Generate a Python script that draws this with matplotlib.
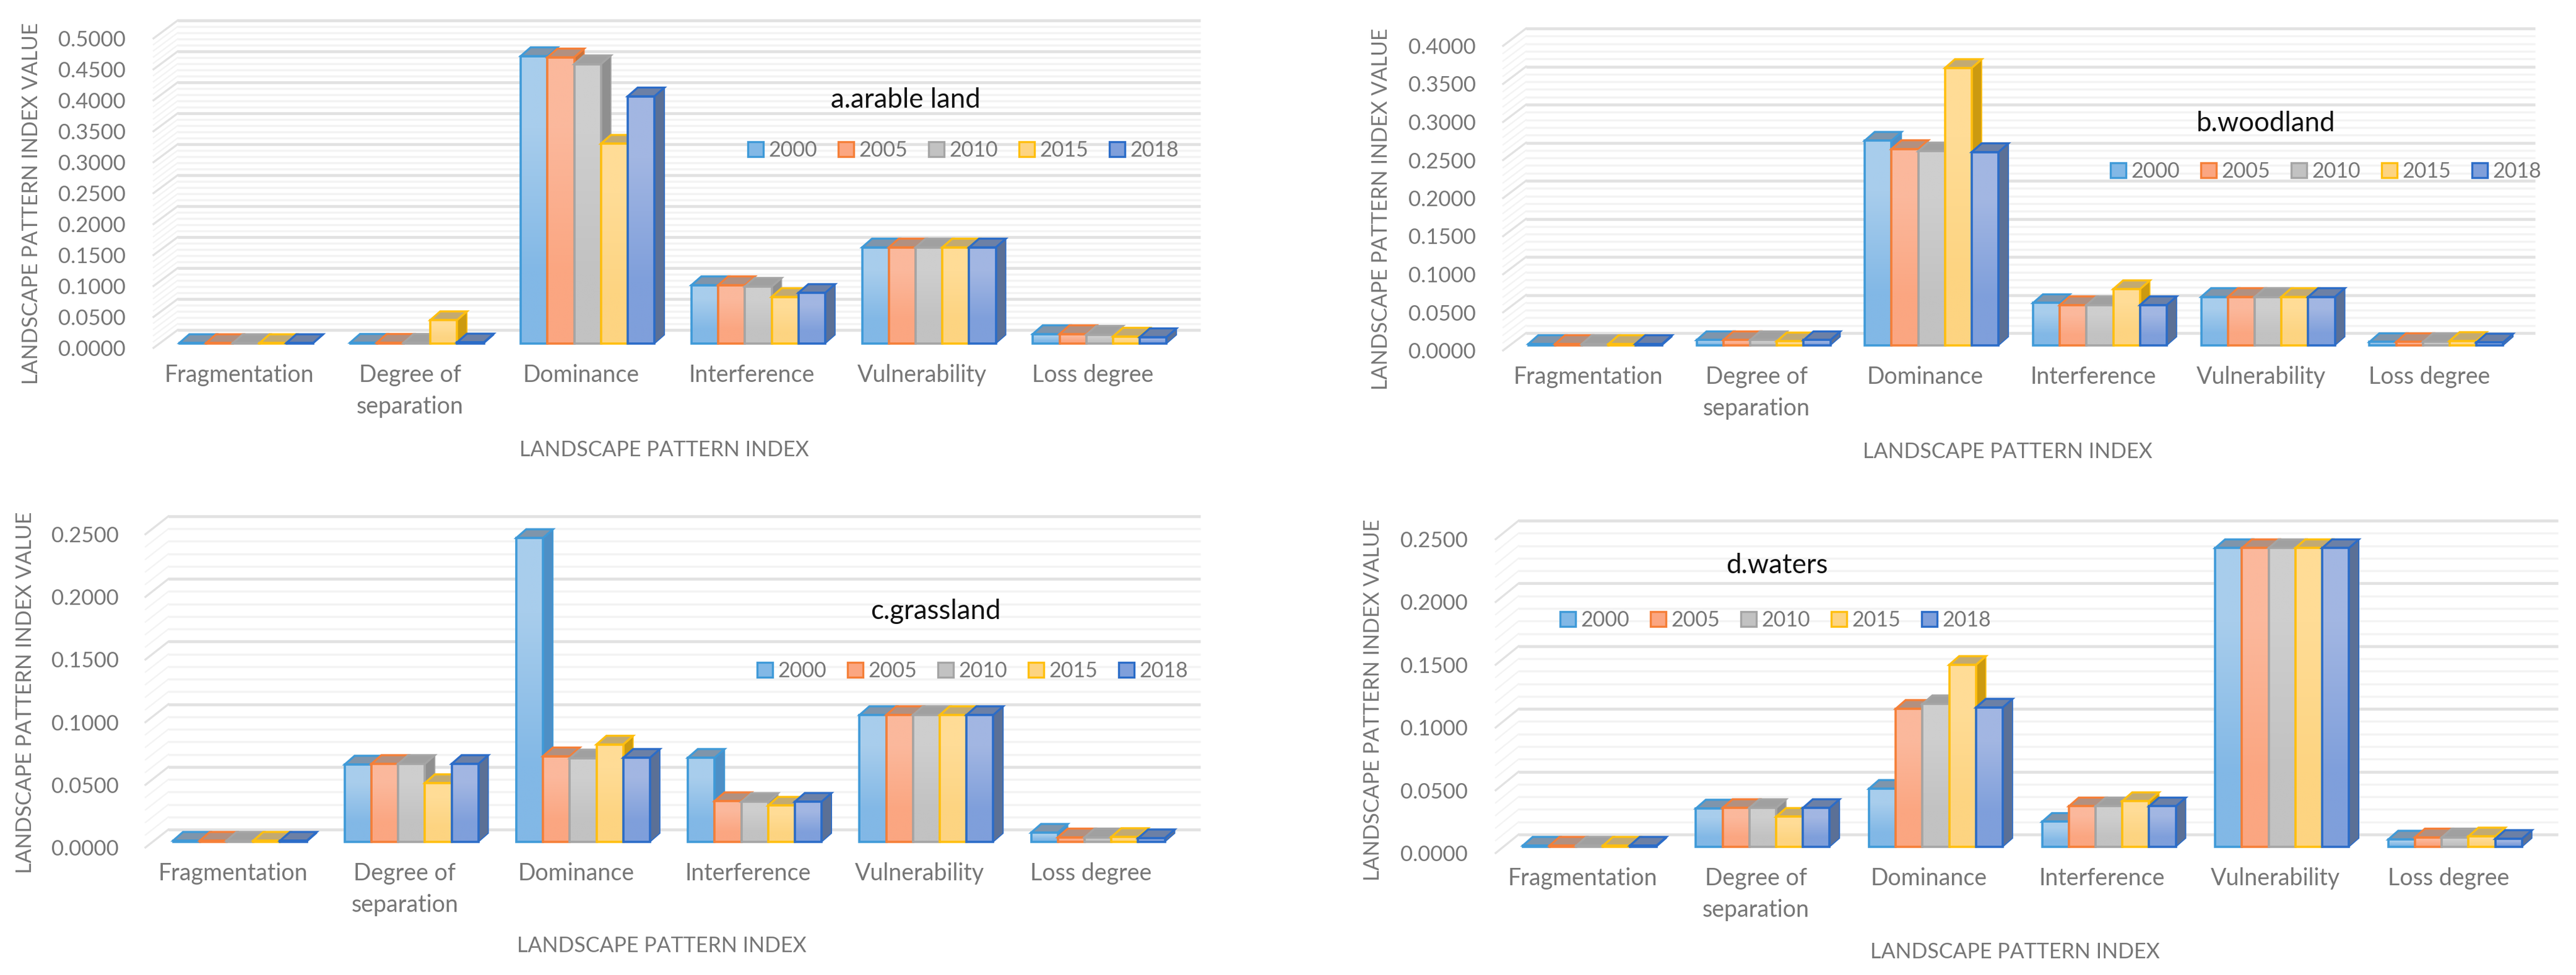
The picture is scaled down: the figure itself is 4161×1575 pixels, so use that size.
import numpy as np
import matplotlib
matplotlib.use("Agg")
import matplotlib.pyplot as plt
from matplotlib.patches import Patch, Polygon
from matplotlib.transforms import Affine2D

W, H = 4161, 1575
plt.rcParams['font.family'] = ['Lato', 'DejaVu Sans']

categories = ["Fragmentation", "Degree of\nseparation", "Dominance", "Interference", "Vulnerability", "Loss degree"]
years = ["2000", "2005", "2010", "2015", "2018"]

# one row per category, one column per year
arable = [
    [0.0010, 0.0010, 0.0010, 0.0010, 0.0010],
    [0.0015, 0.0015, 0.0015, 0.0380, 0.0020],
    [0.4645, 0.4625, 0.4515, 0.3230, 0.3995],
    [0.0945, 0.0945, 0.0920, 0.0755, 0.0820],
    [0.1555, 0.1555, 0.1555, 0.1555, 0.1555],
    [0.0155, 0.0155, 0.0145, 0.0115, 0.0105],
]
woodland = [
    [0.0020, 0.0020, 0.0020, 0.0020, 0.0020],
    [0.0070, 0.0070, 0.0070, 0.0055, 0.0070],
    [0.2690, 0.2580, 0.2550, 0.3645, 0.2540],
    [0.0557, 0.0530, 0.0530, 0.0740, 0.0530],
    [0.0638, 0.0638, 0.0638, 0.0638, 0.0638],
    [0.0045, 0.0045, 0.0045, 0.0060, 0.0040],
]
grassland = [
    [0.0010, 0.0010, 0.0010, 0.0010, 0.0010],
    [0.0618, 0.0623, 0.0623, 0.0470, 0.0623],
    [0.2426, 0.0684, 0.0667, 0.0778, 0.0672],
    [0.0672, 0.0326, 0.0320, 0.0290, 0.0321],
    [0.1013, 0.1013, 0.1013, 0.1013, 0.1013],
    [0.0074, 0.0037, 0.0037, 0.0040, 0.0030],
]
waters = [
    [0.0010, 0.0010, 0.0010, 0.0010, 0.0010],
    [0.0306, 0.0310, 0.0310, 0.0240, 0.0310],
    [0.0463, 0.1100, 0.1137, 0.1450, 0.1110],
    [0.0200, 0.0323, 0.0323, 0.0365, 0.0323],
    [0.2380, 0.2380, 0.2380, 0.2380, 0.2380],
    [0.0059, 0.0076, 0.0076, 0.0084, 0.0064],
]

edge_colors = ["#3f9ad8", "#f57f38", "#a5a5a5", "#ffbf0f", "#2b6cc8"]
light_colors = ["#a8cdec", "#fbb89c", "#cecece", "#ffdc96", "#a2b6e2"]
dark_colors = ["#82b8e6", "#fba681", "#c2c2c2", "#fdd481", "#7f9fdb"]
side_colors = ["#4d8fc6", "#c8743e", "#8f8f8f", "#cc9a10", "#5b7096"]
top_colors = ["#7f95ab", "#b29080", "#a0a0a0", "#c2aa72", "#6c80a6"]
text_gray = "#767676"
major_grid = "#e2e2e2"
minor_grid = "#f3f3f3"

fig = plt.figure(figsize=(W / 100, H / 100), dpi=100, facecolor="white")


def draw_panel(values, title, ymax, left, band, base, scale, back, front, wall_right,
               ylabel_xy, xlabel_xy, title_xy, legend_xy):
    ax = fig.add_axes([left / W, 1 - base / H, band * 6 / W, ymax * scale / H])
    ax.patch.set_visible(False)
    for s in ax.spines.values():
        s.set_visible(False)
    px, py = 1 / band, 1 / scale
    x0 = -0.5

    # back wall and left floor lines
    for v in np.arange(0, ymax + 0.001, 0.01):
        major = abs(v / 0.05 - round(v / 0.05)) < 1e-6
        c = major_grid if major else minor_grid
        lw = 3.4 if major else 2.4
        ax.plot([x0 + back[0] * px, x0 + (wall_right - left) * px], [v + back[1] * py] * 2,
                color=c, lw=lw, clip_on=False, zorder=1, solid_capstyle="butt")
        ax.plot([x0 + front[0] * px, x0 + back[0] * px], [v + front[1] * py, v + back[1] * py],
                color=c, lw=lw * 0.7, clip_on=False, zorder=1)

    w = 43.2 * px
    dx, dy = 16 * px, 14 * py
    for j in range(len(years)):
        vals = [row[j] for row in values]
        xs = np.arange(len(categories)) + (j - 2) * w
        z = 3 + j
        for x, v in zip(xs, vals):
            x1, x2 = x - w / 2, x + w / 2
            ax.add_patch(Polygon([(x2, 0), (x2 + dx, dy), (x2 + dx, v + dy), (x2, v)], closed=True,
                                 fc=side_colors[j], ec=edge_colors[j], lw=1.2, zorder=z, clip_on=False))
            ax.add_patch(Polygon([(x1, v), (x1 + dx, v + dy), (x2 + dx, v + dy), (x2, v)], closed=True,
                                 fc=top_colors[j], ec=edge_colors[j], lw=2.4, zorder=z, clip_on=False))
            grad = np.array([[matplotlib.colors.to_rgb(light_colors[j])],
                             [matplotlib.colors.to_rgb(dark_colors[j])]])
            ax.imshow(grad, extent=(x1, x2, 0, v), aspect="auto", interpolation="bilinear",
                      zorder=z + 0.1, clip_on=False)
        ax.bar(xs, vals, width=w, facecolor="none", edgecolor=edge_colors[j], linewidth=2.6,
               zorder=z + 0.2, clip_on=False)

    ax.set_xlim(-0.5, 5.5)
    ax.set_ylim(0, ymax)

    yticks = np.arange(0, ymax + 0.001, 0.05)
    ax.set_yticks(yticks, [f"{t:.4f}" for t in yticks])
    ax.set_xticks(range(len(categories)), categories)
    ax.tick_params(axis="y", length=0, pad=41, labelsize=25, labelcolor=text_gray)
    ax.tick_params(axis="x", length=0, pad=24, labelsize=27, labelcolor=text_gray)
    for lab in ax.get_yticklabels():
        lab.set_transform(lab.get_transform() + Affine2D().translate(0, front[1]))
    for lab in ax.get_xticklabels():
        lab.set_transform(lab.get_transform() + Affine2D().translate(-11, 0))
        lab.set_linespacing(1.5)

    fig.text(ylabel_xy[0] / W, 1 - ylabel_xy[1] / H, "LANDSCAPE PATTERN INDEX VALUE", rotation=90,
             ha="center", va="center", fontsize=24.5, color=text_gray)
    fig.text(xlabel_xy[0] / W, 1 - xlabel_xy[1] / H, "LANDSCAPE PATTERN INDEX",
             ha="center", va="center", fontsize=24.5, color=text_gray)
    fig.text(title_xy[0] / W, 1 - title_xy[1] / H, title, ha="center", va="center",
             fontsize=31.5, color="#111111")

    handles = [Patch(facecolor=dark_colors[j], edgecolor=edge_colors[j], linewidth=2.4, label=years[j])
               for j in range(len(years))]
    leg = ax.legend(handles=handles, ncol=5, loc="center left",
                    bbox_to_anchor=(legend_xy[0] / W, 1 - legend_xy[1] / H), bbox_transform=fig.transFigure,
                    frameon=False, fontsize=24.5, handlelength=0.73, handleheight=0.73,
                    handletextpad=0.25, columnspacing=1.0, borderpad=0, borderaxespad=0)
    leg.set_zorder(20)
    for t in leg.get_texts():
        t.set_color(text_gray)


draw_panel(arable, "a.arable land", 0.5, 260, 275.7, 555, 1000, (27, 22), (-12, -7), 1939,
           (51, 329), (1073, 727), (1463, 161), (1208, 243))
draw_panel(woodland, "b.woodland", 0.4, 2441, 271.7, 558, 1230, (24, 20), (-13, -8), 4095,
           (2231, 338), (3243, 730), (3660, 199), (3409, 277))
draw_panel(grassland, "c.grassland", 0.25, 249, 277.2, 1360, 2024, (23, 20), (-14, -9), 1939,
           (41, 1119), (1069, 1528), (1511, 987), (1223, 1084))
draw_panel(waters, "d.waters", 0.25, 2428, 279.6, 1368, 2028, (25, 20), (-12, -10), 4132,
           (2218, 1131), (3255, 1538), (2870, 914), (2520, 1002))

fig.savefig("out.png", dpi=100)
